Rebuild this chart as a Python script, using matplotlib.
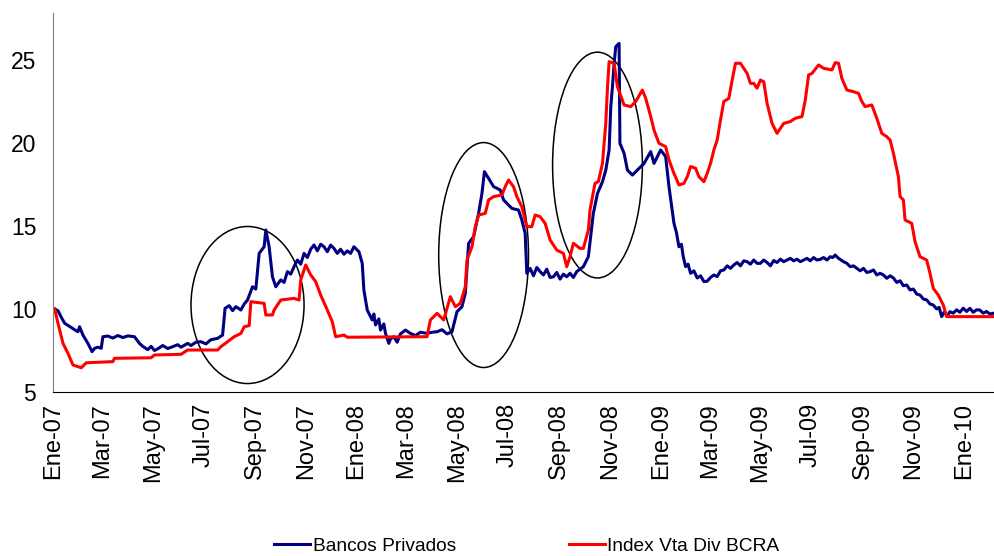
import numpy as np
import matplotlib.pyplot as plt
import matplotlib.dates as mdates
from matplotlib.patches import Ellipse

plt.rcParams['font.family'] = ['Liberation Sans', 'DejaVu Sans']

inicio = np.datetime64('2007-01-01')

# Bancos Privados: dias desde 01-ene-2007 y valor
dias_bancos = [2, 6, 10, 14, 20, 26, 30, 32, 36, 42, 47, 50, 54, 58, 60, 66, 72, 78, 84,
               90, 98, 104, 108, 114, 118, 122, 126, 132, 138, 144, 150, 154, 162, 166,
               172, 178, 184, 190, 198, 204, 207, 212, 216, 220, 226, 230, 234, 240,
               244, 248, 254, 256, 260, 264, 268, 274, 278, 282, 286, 290, 294, 298,
               302, 306, 310, 314, 318, 322, 326, 330, 334, 338, 342, 346, 350, 354,
               358, 362, 368, 372, 374, 378, 384, 386, 388, 392, 394, 398, 400, 404,
               406, 410, 414, 418, 424, 430, 436, 442, 450, 456, 462, 468, 474, 480,
               486, 492, 496, 500, 506, 512, 516, 519, 524, 530, 538, 542, 552, 560,
               564, 568, 570, 574, 578, 582, 586, 590, 594, 598, 602, 606, 610, 614,
               618, 622, 626, 630, 634, 638, 644, 650, 655, 661, 665, 669, 671, 673,
               675, 677, 681, 682, 687, 691, 697, 703, 711, 719, 723, 731, 737, 741,
               747, 750, 753, 756, 758, 761, 764, 767, 771, 775, 779, 783, 787, 791,
               795, 799, 803, 807, 811, 815, 819, 823, 827, 831, 835, 839, 843, 847,
               851, 855, 859, 863, 867, 871, 875, 879, 883, 887, 891, 895, 899, 903,
               907, 911, 915, 919, 923, 927, 931, 935, 938, 941, 945, 951, 955, 959,
               963, 967, 971, 975, 979, 983, 987, 991, 995, 999, 1003, 1007, 1011,
               1015, 1019, 1023, 1027, 1031, 1035, 1039, 1043, 1047, 1051, 1055, 1059,
               1063, 1066, 1069, 1072, 1076, 1079, 1083, 1087, 1091, 1095, 1099, 1103,
               1107, 1111, 1115, 1119, 1123, 1127, 1131]
bancos = [10.0, 9.9, 9.5, 9.14, 8.95, 8.75, 8.63, 8.93, 8.43, 7.93, 7.43, 7.63, 7.7, 7.63,
          8.33, 8.37, 8.25, 8.4, 8.28, 8.38, 8.33, 7.93, 7.75, 7.55, 7.75, 7.5, 7.6, 7.8,
          7.62, 7.73, 7.85, 7.7, 7.93, 7.8, 8.0, 8.03, 7.9, 8.15, 8.23, 8.43, 10.04, 10.2,
          9.9, 10.14, 9.94, 10.3, 10.54, 11.34, 11.2, 13.35, 13.75, 14.76, 13.75, 11.94,
          11.34, 11.75, 11.6, 12.25, 12.1, 12.55, 12.95, 12.7, 13.35, 13.1, 13.6, 13.86,
          13.5, 13.9, 13.75, 13.45, 13.85, 13.65, 13.35, 13.6, 13.3, 13.5, 13.35, 13.75,
          13.45, 12.75, 11.14, 9.94, 9.34, 9.7, 9.04, 9.4, 8.73, 9.1, 8.53, 7.93, 8.2,
          8.33, 8.0, 8.5, 8.73, 8.53, 8.4, 8.6, 8.53, 8.6, 8.63, 8.75, 8.5, 8.63, 9.84,
          10.14, 10.95, 13.96, 14.36, 15.76, 16.96, 18.27, 17.87, 17.37, 17.17, 16.57,
          16.06, 15.96, 15.36, 14.56, 12.15, 12.45, 12.0, 12.5, 12.25, 12.05, 12.4, 11.9,
          11.94, 12.2, 11.8, 12.1, 11.94, 12.15, 11.9, 12.25, 12.4, 12.55, 13.15, 15.76,
          16.96, 17.67, 18.37, 19.58, 22.19, 23.39, 24.8, 25.8, 26.0, 19.98, 19.38, 18.37,
          18.07, 18.37, 18.77, 19.48, 18.77, 19.58, 19.18, 17.37, 15.16, 14.6, 13.75,
          13.9, 13.2, 12.55, 12.7, 12.15, 12.3, 11.87, 12.0, 11.65, 11.67, 11.9, 12.05,
          11.95, 12.3, 12.35, 12.6, 12.45, 12.65, 12.8, 12.6, 12.9, 12.85, 12.7, 12.95,
          12.75, 12.75, 12.95, 12.8, 12.6, 12.92, 12.8, 13.0, 12.85, 12.95, 13.05, 12.9,
          13.0, 12.85, 12.95, 13.05, 12.9, 13.1, 12.95, 12.99, 13.1, 12.95, 13.15, 13.1,
          13.25, 13.05, 12.85, 12.75, 12.55, 12.6, 12.45, 12.3, 12.45, 12.2, 12.25, 12.35,
          12.05, 12.15, 12.05, 11.85, 12.0, 11.87, 11.6, 11.7, 11.4, 11.45, 11.15, 11.2,
          10.9, 10.84, 10.6, 10.55, 10.3, 10.24, 10.0, 10.1, 9.54, 9.8, 9.6, 9.84, 9.75,
          9.95, 9.8, 10.05, 9.85, 10.04, 9.8, 9.95, 9.94, 9.75, 9.85, 9.7, 9.74]

# Index Vta Div BCRA
dias_bcra = [2, 6, 12, 18, 24, 34, 40, 72, 74, 118, 122, 154, 162, 198, 202, 210, 218,
             226, 230, 236, 238, 254, 256, 264, 266, 274, 290, 296, 298, 304, 310, 316,
             322, 330, 336, 340, 350, 354, 450, 454, 462, 470, 478, 484, 490, 496, 498,
             504, 508, 512, 520, 524, 530, 540, 544, 548, 554, 558, 564, 568, 570, 576,
             580, 586, 592, 598, 606, 614, 618, 622, 626, 634, 638, 644, 646, 652, 656,
             661, 665, 667, 669, 675, 679, 687, 695, 701, 709, 713, 719, 723, 729, 737,
             741, 747, 753, 759, 763, 767, 773, 777, 783, 787, 791, 795, 799, 803, 807,
             813, 817, 821, 827, 835, 839, 843, 847, 851, 855, 859, 865, 871, 879, 887,
             893, 901, 905, 909, 913, 921, 927, 937, 941, 945, 949, 955, 963, 969, 973,
             977, 985, 991, 997, 1003, 1007, 1011, 1017, 1019, 1023, 1025, 1033, 1037,
             1043, 1051, 1055, 1059, 1065, 1071, 1075, 1131]
bcra = [10.0, 9.14, 7.93, 7.33, 6.63, 6.46, 6.76, 6.83, 7.03, 7.06, 7.23, 7.27, 7.53,
        7.53, 7.73, 8.03, 8.33, 8.53, 8.93, 9.0, 10.44, 10.34, 9.64, 9.64, 9.94, 10.54,
        10.64, 10.54, 11.75, 12.65, 12.05, 11.65, 10.84, 9.94, 9.23, 8.33, 8.43, 8.3,
        8.33, 9.34, 9.74, 9.34, 10.74, 10.14, 10.34, 11.34, 12.95, 13.75, 14.96, 15.66,
        15.76, 16.57, 16.77, 16.87, 17.37, 17.77, 17.37, 16.77, 16.16, 15.36, 14.96,
        14.96, 15.66, 15.56, 15.16, 14.16, 13.55, 13.35, 12.55, 13.15, 13.96, 13.65,
        13.65, 14.76, 15.96, 17.57, 17.67, 18.77, 21.2, 23.33, 24.9, 24.8, 23.39, 22.29,
        22.19, 22.5, 23.19, 22.69, 21.6, 20.78, 19.98, 19.78, 18.98, 18.17, 17.47, 17.57,
        17.97, 18.58, 18.48, 17.97, 17.67, 18.17, 18.77, 19.58, 20.18, 21.39, 22.5,
        22.69, 23.79, 24.8, 24.8, 24.19, 23.59, 23.59, 23.3, 23.79, 23.69, 22.39, 21.18,
        20.58, 21.18, 21.29, 21.49, 21.59, 22.59, 24.1, 24.19, 24.7, 24.5, 24.4, 24.84,
        24.8, 23.89, 23.19, 23.09, 22.99, 22.5, 22.19, 22.29, 21.49, 20.58, 20.38,
        20.18, 19.38, 17.97, 16.77, 16.57, 15.36, 15.16, 14.06, 13.15, 12.95, 12.15,
        11.24, 10.84, 10.24, 9.54, 9.54]

# periodos marcados: (centro, ancho en dias, valor central, alto)
marcas = [('2007-08-23', 136, 10.24, 9.46),
          ('2008-06-02', 108, 13.25, 13.55),
          ('2008-10-17', 108, 18.67, 13.6)]

meses = ['Ene', 'Mar', 'May', 'Jul', 'Sep', 'Nov']
ticks = [np.datetime64(f'{2007 + i // 6}-{(i % 6) * 2 + 1:02d}-01') for i in range(19)]
etiquetas = [f'{meses[i % 6]}-{(7 + i // 6):02d}' for i in range(19)]

fechas_bancos = inicio + np.array(dias_bancos).astype('timedelta64[D]')
fechas_bcra = inicio + np.array(dias_bcra).astype('timedelta64[D]')

fig = plt.figure(figsize=(9.94, 5.56), dpi=100)
ax = fig.add_axes([53 / 994, 1 - 392 / 556, 1 - 53 / 994, (392 - 13) / 556])

ax.plot(fechas_bancos, bancos, color='#000080', lw=2.2, label='Bancos Privados')
ax.plot(fechas_bcra, bcra, color='#ff0000', lw=2.2, label='Index Vta Div BCRA')

for centro, ancho, yc, alto in marcas:
    xc = mdates.date2num(np.datetime64(centro))
    ax.add_patch(Ellipse((xc, yc), ancho, alto, fill=False, ec='black', lw=1.1))

ax.set_xlim(inicio, np.datetime64('2010-02-06'))
ax.set_ylim(5, 27.83)
ax.set_yticks([5, 10, 15, 20, 25])
ax.set_xticks(ticks)
ax.set_xticklabels(etiquetas, rotation=90, fontsize=17)
ax.tick_params(axis='y', labelsize=16.5, length=0, pad=12)
ax.tick_params(axis='x', length=0, pad=8)

ax.spines['top'].set_visible(False)
ax.spines['right'].set_visible(False)
ax.spines['left'].set_color('#808080')
ax.spines['bottom'].set_color('black')

fig.legend(loc='center', bbox_to_anchor=(527 / 994, 1 - 546 / 556), ncol=2,
           frameon=False, handlelength=1.85, handletextpad=0.15, columnspacing=5.9,
           borderpad=0, fontsize=13.8)

fig.savefig('out.png', dpi=100)
